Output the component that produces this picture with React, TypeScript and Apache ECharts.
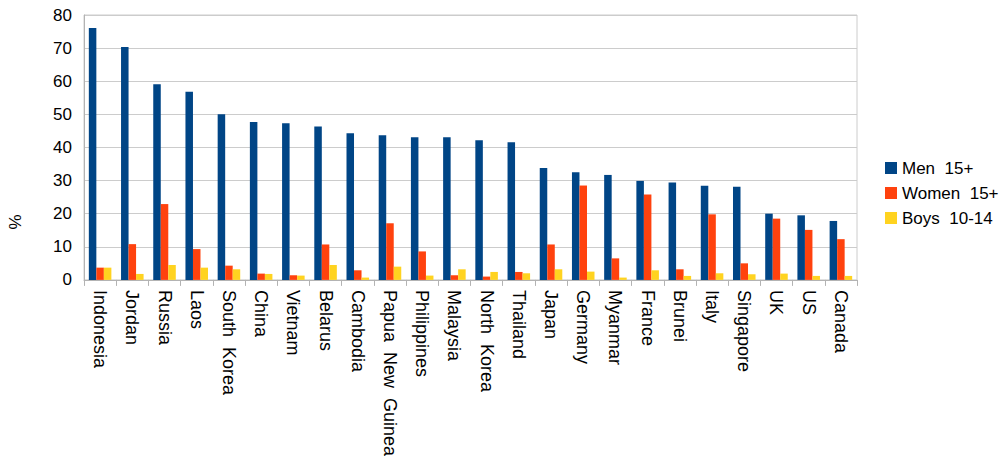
import React, { useEffect, useRef } from "react";
import * as echarts from "echarts";

const categories = [
  "Indonesia", "Jordan", "Russia", "Laos", "South  Korea", "China", "Vietnam", "Belarus",
  "Cambodia", "Papua  New  Guinea", "Philippines", "Malaysia", "North  Korea", "Thailand",
  "Japan", "Germany", "Myanmar", "France", "Brunei", "Italy", "Singapore", "UK", "US", "Canada",
];
const men = [76.1, 70.3, 59.1, 56.8, 50.0, 47.7, 47.3, 46.3, 44.3, 43.7, 43.1, 43.1, 42.2, 41.6, 33.8, 32.5, 31.7, 29.9, 29.4, 28.4, 28.1, 20.0, 19.5, 17.8];
const women = [3.7, 10.8, 22.9, 9.3, 4.3, 1.9, 1.4, 10.7, 2.9, 17.1, 8.6, 1.4, 1.0, 2.4, 10.7, 28.5, 6.5, 25.8, 3.2, 19.8, 5.0, 18.5, 15.1, 12.3];
const boys = [3.7, 1.8, 4.5, 3.7, 3.2, 1.8, 1.3, 4.5, 0.7, 4.0, 1.3, 3.2, 2.4, 2.0, 3.2, 2.5, 0.7, 2.9, 1.2, 2.0, 1.7, 1.9, 1.2, 1.2];
const yTicks = { min: 0, max: 80, interval: 10 };
const yAxisName = "%";

const FONT = "'Liberation Sans', Arial, sans-serif";

export default function App() {
  const ref = useRef<HTMLDivElement>(null);
  useEffect(() => {
    if (!ref.current) return;
    const chart = echarts.init(ref.current, null, { renderer: "svg" });
    chart.setOption({
      animation: false,
      textStyle: { fontFamily: FONT },
      grid: {
        left: 84, top: 15, right: 143, bottom: 179,
        show: true, borderColor: "#cccccc", borderWidth: 1,
      },
      graphic: [
        {
          type: "text",
          x: 15, y: 222,
          rotation: Math.PI / 2,
          style: {
            text: yAxisName, fontSize: 17, fill: "#000", fontFamily: FONT,
            align: "center", verticalAlign: "middle",
          },
        },
      ],
      legend: {
        orient: "vertical",
        left: 880, top: 153,
        itemWidth: 12, itemHeight: 12, itemGap: 5,
        icon: "rect",
        textStyle: { fontSize: 17, color: "#000", fontFamily: FONT, lineHeight: 20 },
        data: ["Men  15+", "Women  15+", "Boys  10-14"],
      },
      xAxis: {
        type: "category",
        data: categories,
        axisLine: { lineStyle: { color: "#b3b3b3" } },
        axisTick: { show: true, length: 6, lineStyle: { color: "#b3b3b3" } },
        axisLabel: {
          rotate: -90, interval: 0, fontSize: 18, color: "#000", margin: 10, fontFamily: FONT,
        },
      },
      yAxis: {
        type: "value",
        min: yTicks.min, max: yTicks.max, interval: yTicks.interval,
        axisLine: { show: true, lineStyle: { color: "#b3b3b3" } },
        axisTick: { show: false },
        axisLabel: { fontSize: 17, color: "#000", margin: 12, fontFamily: FONT },
        splitLine: { lineStyle: { color: "#cccccc" } },
      },
      series: [
        { name: "Men  15+", type: "bar", data: men, itemStyle: { color: "#004586" }, barGap: "0%", barCategoryGap: "30%" },
        { name: "Women  15+", type: "bar", data: women, itemStyle: { color: "#ff420e" } },
        { name: "Boys  10-14", type: "bar", data: boys, itemStyle: { color: "#ffd320" } },
      ],
    });
    return () => chart.dispose();
  }, []);
  return <div ref={ref} style={{ width: 1000, height: 459, position: "absolute", left: 0, top: 0 }} />;
}
